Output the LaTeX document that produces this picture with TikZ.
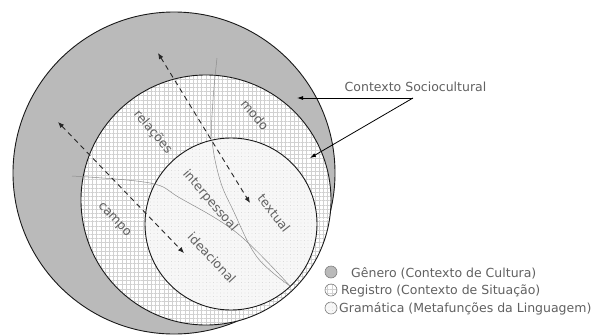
\documentclass[tikz,border=0pt]{standalone}
\usepackage{fontspec}
\newfontfamily\lab{DejaVu Sans}
\usetikzlibrary{arrows.meta,patterns.meta}
\tikzset{
  lbl/.style={font=\lab\fontsize{12.5}{14}\selectfont, text=black!62, inner sep=0pt},
  legtxt/.style={font=\lab\fontsize{12.5}{14}\selectfont, text=black!62, inner sep=0pt, anchor=west},
  ring/.style={draw=black!90, line width=0.9pt},
  thinline/.style={draw=black!45, line width=0.5pt},
  dasharrow/.style={draw=black!85, line width=0.9pt, dash pattern=on 5pt off 4pt, {Latex[length=6pt,width=5pt]}-{Latex[length=6pt,width=5pt]}},
  ptr/.style={draw=black, line width=0.8pt, -{Latex[length=6pt,width=4pt]}},
  genfill/.style={fill=black!27},
  gridh/.style={pattern={Lines[angle=0,distance=4.2pt,line width=0.5pt]}, pattern color=black!18},
  gridv/.style={pattern={Lines[angle=90,distance=4.2pt,line width=0.5pt]}, pattern color=black!18},
  gramfill/.style={fill=black!3},
  gramdots/.style={pattern={Dots[distance=3.5pt,radius=0.4pt]}, pattern color=black!20},
}
\begin{document}
\begin{tikzpicture}[x=1pt,y=-1pt]
\useasboundingbox (0,0) rectangle (597,335);
\fill[white] (0,0) rectangle (597,335);

% Genero (outer)
\fill[genfill] (174,173) circle[radius=161pt];
\draw[ring] (174,173) circle[radius=161pt];

% Registro (middle)
\fill[white] (206,200) circle[radius=125pt];
\fill[gridh] (206,200) circle[radius=125pt];
\fill[gridv] (206,200) circle[radius=125pt];
\draw[ring] (206,200) circle[radius=125pt];

% Gramatica (inner)
\fill[gramfill] (231,224) circle[radius=86pt];
\fill[gramdots] (231,224) circle[radius=86pt];
\draw[ring] (231,224) circle[radius=86pt];

% thin division lines
\draw[thinline] plot[smooth, tension=0.6] coordinates {(72,176) (150,183) (180,198) (237,233) (290,286)};
\draw[thinline] plot[smooth, tension=0.6] coordinates {(217,58) (213,100) (212,140) (220,180) (233,210) (257,257) (290,286)};

% dashed arrows
\coordinate (d1a) at (158,53);
\coordinate (d1b) at (250,203);
\coordinate (d2a) at (58,122);
\coordinate (d2b) at (184,253);
\draw[dasharrow] (d1a) -- (d1b);
\draw[dasharrow] (d2a) -- (d2b);

% labels
\node[lbl, rotate=-50] (relacoes) at (153,132) {relações};
\node[lbl, rotate=-50] (modo) at (255,115) {modo};
\node[lbl, rotate=-49] (interp) at (210,201) {interpessoal};
\node[lbl, rotate=-52] (textual) at (274,213) {textual};
\node[lbl, rotate=-47] (ideac) at (212,258) {ideacional};
\node[lbl, rotate=-47] (campo) at (114,220) {campo};

% Contexto Sociocultural
\node[lbl] (ctx) at (415.5,87) {Contexto Sociocultural};
\coordinate (ctxtail) at (413,98);
\coordinate (tgen) at (297,98);
\coordinate (treg) at (310,158);
\draw[ptr] (ctxtail) -- (tgen);
\draw[ptr] (ctxtail) -- (treg);

% legend
\fill[genfill] (331,272) circle[radius=6pt];
\draw[black!50, line width=0.6pt] (331,272) circle[radius=6pt];
\fill[white] (331,290) circle[radius=6pt];
\fill[gridh] (331,290) circle[radius=6pt];
\fill[gridv] (331,290) circle[radius=6pt];
\draw[black!50, line width=0.6pt] (331,290) circle[radius=6pt];
\fill[gramfill] (331,308) circle[radius=6pt];
\fill[gramdots] (331,308) circle[radius=6pt];
\draw[black!50, line width=0.6pt] (331,308) circle[radius=6pt];
\node[legtxt] (lg1) at (351,273) {Gênero (Contexto de Cultura)};
\node[legtxt] (lg2) at (341,291) {Registro (Contexto de Situação)};
\node[legtxt] (lg3) at (339,309) {Gramática (Metafunções da Linguagem)};
\end{tikzpicture}
\end{document}
